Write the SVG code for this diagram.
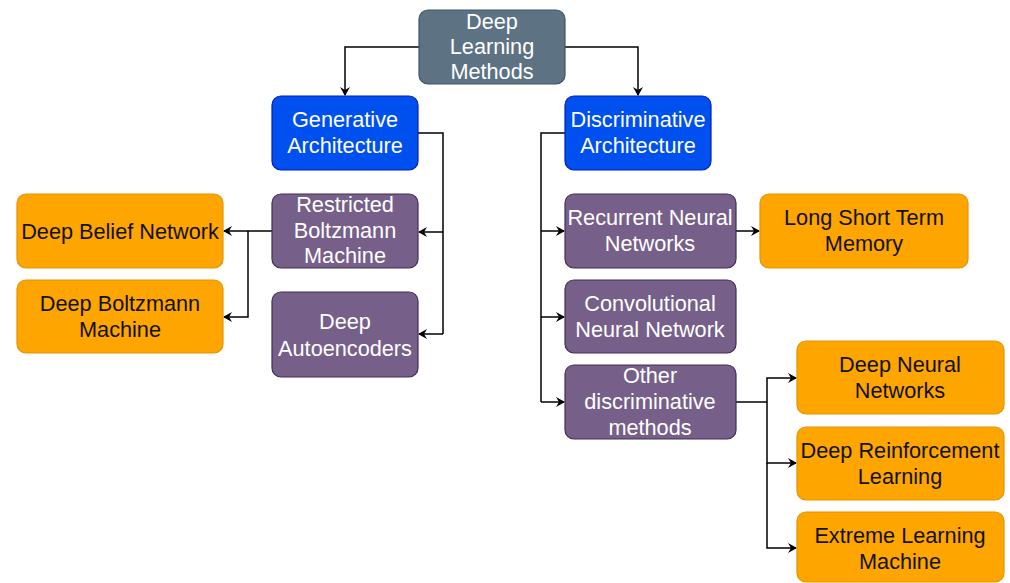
<svg xmlns="http://www.w3.org/2000/svg" width="1010" height="583" viewBox="0 0 1010 583">
<style>
text{font-family:"Liberation Sans",Arial,sans-serif;font-size:21.7px;text-anchor:middle;dominant-baseline:central}
.w{fill:#fff}.k{fill:#111}
.root{fill:#5d7283;stroke:#3f5566;stroke-width:1.2}
.blue{fill:#0050ef;stroke:#001dbc;stroke-width:1.2}
.pur{fill:#76608a;stroke:#432d57;stroke-width:1.2}
.org{fill:#ffa500;stroke:#e39400;stroke-width:1.2}
.c{fill:none;stroke:#000;stroke-width:1.5;marker-end:url(#a)}
.n{fill:none;stroke:#000;stroke-width:1.5}
</style>
<defs><marker id="a" markerWidth="10" markerHeight="10" refX="8" refY="5" orient="auto" markerUnits="userSpaceOnUse"><path d="M0,0 L9,5 L0,10 L3,5 Z" fill="#000"/></marker></defs>
<rect width="1010" height="583" fill="#fff"/>
<g id="connectors">
<path class="c" d="M419,47 H345 V95"/>
<path class="c" d="M565,47 H638 V95"/>
<path class="n" d="M418,133 H443 V334"/>
<path class="c" d="M443,232 H419"/>
<path class="c" d="M443,334 H419"/>
<path class="c" d="M272,231 H224"/>
<path class="c" d="M248,231 V317 H224"/>
<path class="n" d="M565,133 H541 V402"/>
<path class="c" d="M541,231 H564"/>
<path class="c" d="M541,317 H564"/>
<path class="c" d="M541,402 H564"/>
<path class="c" d="M736,231 H759"/>
<path class="n" d="M736,402 H767"/>
<path class="c" d="M767,402 V378 H796"/>
<path class="c" d="M767,402 V463 H796"/>
<path class="c" d="M767,463 V548 H796"/>
</g>
<g id="root"><rect class="root" x="419" y="10" width="146" height="74" rx="9"/><text class="w" x="492" y="21">Deep</text><text class="w" x="492" y="46">Learning</text><text class="w" x="492" y="71">Methods</text></g>
<g id="generative"><rect class="blue" x="272" y="96" width="146" height="74" rx="9"/><text class="w" x="345" y="119">Generative</text><text class="w" x="345" y="145">Architecture</text></g>
<g id="discriminative"><rect class="blue" x="565" y="96" width="146" height="74" rx="9"/><text class="w" x="638" y="119">Discriminative</text><text class="w" x="638" y="145">Architecture</text></g>
<g id="rbm"><rect class="pur" x="272" y="194" width="146" height="74" rx="9"/><text class="w" x="345" y="204">Restricted</text><text class="w" x="345" y="230">Boltzmann</text><text class="w" x="345" y="255">Machine</text></g>
<g id="autoenc"><rect class="pur" x="272" y="292" width="146" height="85" rx="9"/><text class="w" x="345" y="321">Deep</text><text class="w" x="345" y="348">Autoencoders</text></g>
<g id="dbn"><rect class="org" x="17" y="194" width="206" height="74" rx="9"/><text class="k" x="120" y="231">Deep Belief Network</text></g>
<g id="dbm"><rect class="org" x="17" y="280" width="206" height="73" rx="9"/><text class="k" x="120" y="303">Deep Boltzmann</text><text class="k" x="120" y="329">Machine</text></g>
<g id="rnn"><rect class="pur" x="565" y="194" width="171" height="74" rx="9"/><text class="w" x="650" y="217">Recurrent Neural</text><text class="w" x="650" y="243">Networks</text></g>
<g id="lstm"><rect class="org" x="760" y="194" width="208" height="74" rx="9"/><text class="k" x="864" y="217">Long Short Term</text><text class="k" x="864" y="243">Memory</text></g>
<g id="cnn"><rect class="pur" x="565" y="280" width="171" height="73" rx="9"/><text class="w" x="650" y="303">Convolutional</text><text class="w" x="650" y="329">Neural Network</text></g>
<g id="other"><rect class="pur" x="565" y="365" width="171" height="74" rx="9"/><text class="w" x="650" y="375">Other</text><text class="w" x="650" y="401">discriminative</text><text class="w" x="650" y="427">methods</text></g>
<g id="dnn"><rect class="org" x="797" y="341" width="207" height="73" rx="9"/><text class="k" x="900" y="364">Deep Neural</text><text class="k" x="900" y="390">Networks</text></g>
<g id="drl"><rect class="org" x="797" y="427" width="207" height="73" rx="9"/><text class="k" x="900" y="450">Deep Reinforcement</text><text class="k" x="900" y="476">Learning</text></g>
<g id="elm"><rect class="org" x="797" y="512" width="207" height="70" rx="9"/><text class="k" x="900" y="535">Extreme Learning</text><text class="k" x="900" y="561">Machine</text></g>
</svg>
